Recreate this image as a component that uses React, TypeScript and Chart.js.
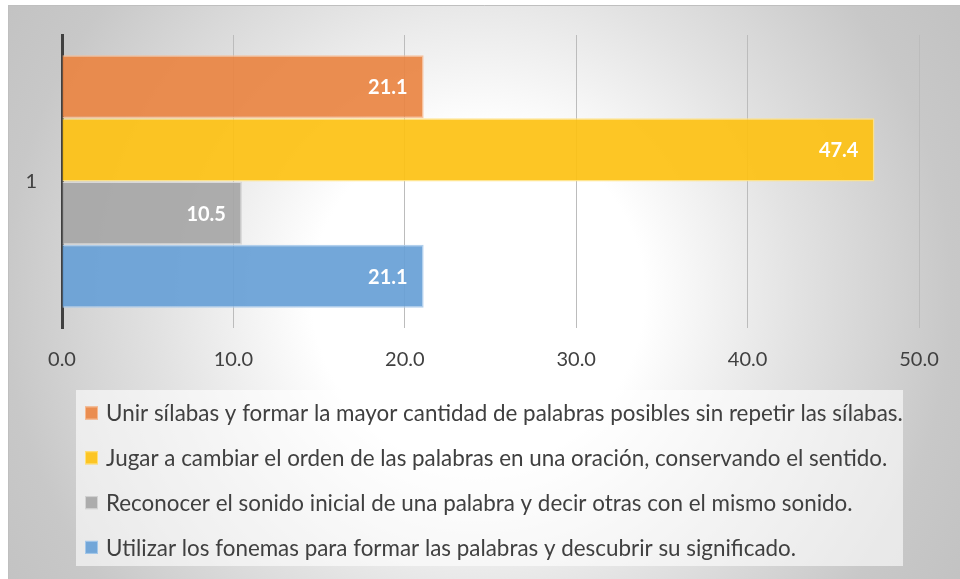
import React, { useEffect, useRef } from "react";
import { Chart, registerables } from "chart.js";

Chart.register(...registerables);

const categories = ["1"];
const seriesNames = [
  "Unir sílabas y formar la mayor cantidad de palabras posibles sin repetir las sílabas.",
  "Jugar a cambiar el orden de las palabras en una oración, conservando el sentido.",
  "Reconocer el sonido inicial de una palabra y decir otras con el mismo sonido.",
  "Utilizar los fonemas para formar las palabras y descubrir su significado.",
];
const unirSilabas = [21.1];
const jugarOrden = [47.4];
const reconocerSonido = [10.5];
const utilizarFonemas = [21.1];
const xMin = 0;
const xMax = 50;
const xStep = 10;

const fills = [
  "rgba(234, 133, 68, 0.93)",
  "rgba(253, 194, 20, 0.93)",
  "rgba(167, 167, 167, 0.93)",
  "rgba(104, 160, 214, 0.93)",
];
const borders = [
  "rgba(247, 190, 150, 0.9)",
  "rgba(255, 226, 130, 0.9)",
  "rgba(215, 215, 215, 0.9)",
  "rgba(170, 203, 235, 0.9)",
];

const FONT = "Lato, 'Open Sans', sans-serif";
const TEXT = "#404040";

export default function App() {
  const ref = useRef<HTMLCanvasElement>(null);

  useEffect(() => {
    if (!ref.current) return;

    const bgPlugin = {
      id: "bgPlugin",
      beforeDraw(chart: any) {
        const { ctx, width, height } = chart;
        ctx.save();
        const cx = 470;
        const cy = 290;
        const g = ctx.createRadialGradient(cx, cy, 0, cx, cy, 640);
        g.addColorStop(0, "#ffffff");
        g.addColorStop(0.26, "#ffffff");
        g.addColorStop(0.5, "#e2e2e2");
        g.addColorStop(0.74, "#c8c8c8");
        g.addColorStop(1, "#bdbdbd");
        ctx.fillStyle = g;
        ctx.fillRect(0, 0, width, height);
        ctx.strokeStyle = "#bfbfbf";
        ctx.lineWidth = 1;
        ctx.beginPath();
        ctx.moveTo(0.5, height);
        ctx.lineTo(0.5, 0.5);
        ctx.lineTo(width, 0.5);
        ctx.stroke();
        ctx.restore();
      },
    };

    const valuePlugin = {
      id: "valuePlugin",
      afterDatasetsDraw(chart: any) {
        const { ctx } = chart;
        ctx.save();
        ctx.font = `bold 20px ${FONT}`;
        ctx.fillStyle = "#ffffff";
        ctx.textAlign = "right";
        ctx.textBaseline = "middle";
        chart.data.datasets.forEach((ds: any, i: number) => {
          const meta = chart.getDatasetMeta(i);
          meta.data.forEach((bar: any, j: number) => {
            const v = ds.data[j] as number;
            ctx.fillText(v.toFixed(1), bar.x - 16, bar.y + 1);
          });
        });
        ctx.restore();
      },
    };

    const legendPlugin = {
      id: "legendPlugin",
      afterDraw(chart: any) {
        const { ctx } = chart;
        ctx.save();
        const bx = 68, by = 385, bw = 827, bh = 176;
        ctx.fillStyle = "rgba(255,255,255,0.6)";
        ctx.fillRect(bx, by, bw, bh);
        const rowY0 = 408;
        const rowGap = 44.8;
        ctx.font = `22.4px ${FONT}`;
        ctx.textBaseline = "middle";
        ctx.textAlign = "left";
        chart.data.datasets.forEach((ds: any, i: number) => {
          const y = rowY0 + i * rowGap;
          ctx.fillStyle = ds.backgroundColor;
          ctx.fillRect(77, y - 6.5, 13, 13);
          ctx.strokeStyle = ds.borderColor;
          ctx.lineWidth = 1;
          ctx.strokeRect(77.5, y - 6, 12, 12);
          ctx.fillStyle = TEXT;
          ctx.fillText(ds.label, 98, y + 1);
        });
        ctx.restore();
      },
    };

    const seriesData = [unirSilabas, jugarOrden, reconocerSonido, utilizarFonemas];

    const chart = new Chart(ref.current, {
      type: "bar",
      data: {
        labels: categories,
        datasets: seriesData.map((d, i) => ({
          label: seriesNames[i],
          data: d,
          backgroundColor: fills[i],
          borderColor: borders[i],
          borderWidth: 1.5,
          categoryPercentage: 0.8625,
          barPercentage: 1,
        })),
      },
      options: {
        indexAxis: "y",
        responsive: false,
        animation: false,
        layout: { padding: { top: 30, right: 41, left: 0, bottom: 191 } },
        plugins: {
          legend: { display: false },
          tooltip: { enabled: false },
        },
        scales: {
          x: {
            min: xMin,
            max: xMax,
            ticks: {
              stepSize: xStep,
              padding: 20,
              color: TEXT,
              font: { family: FONT, size: 20 },
              callback: (v: any) => Number(v).toFixed(1),
            },
            grid: { color: "#bcbcbc", lineWidth: 1, drawTicks: false },
            border: { display: false },
            afterFit: (scale: any) => {
              scale.height = 60;
              scale.paddingLeft = 0;
              scale.paddingRight = 0;
            },
          },
          y: {
            ticks: {
              padding: 25,
              color: TEXT,
              font: { family: FONT, size: 20 },
            },
            grid: { display: false, drawTicks: false },
            border: { display: true, color: "#404040", width: 3 },
            afterFit: (scale: any) => {
              scale.width = 54;
              scale.paddingTop = 0;
              scale.paddingBottom = 0;
            },
          },
        },
      },
      plugins: [bgPlugin, valuePlugin, legendPlugin],
    });

    return () => chart.destroy();
  }, []);

  return (
    <div style={{ position: "fixed", left: 8, top: 5, width: 952, height: 574 }}>
      <canvas ref={ref} width={952} height={574} style={{ display: "block" }} />
    </div>
  );
}
